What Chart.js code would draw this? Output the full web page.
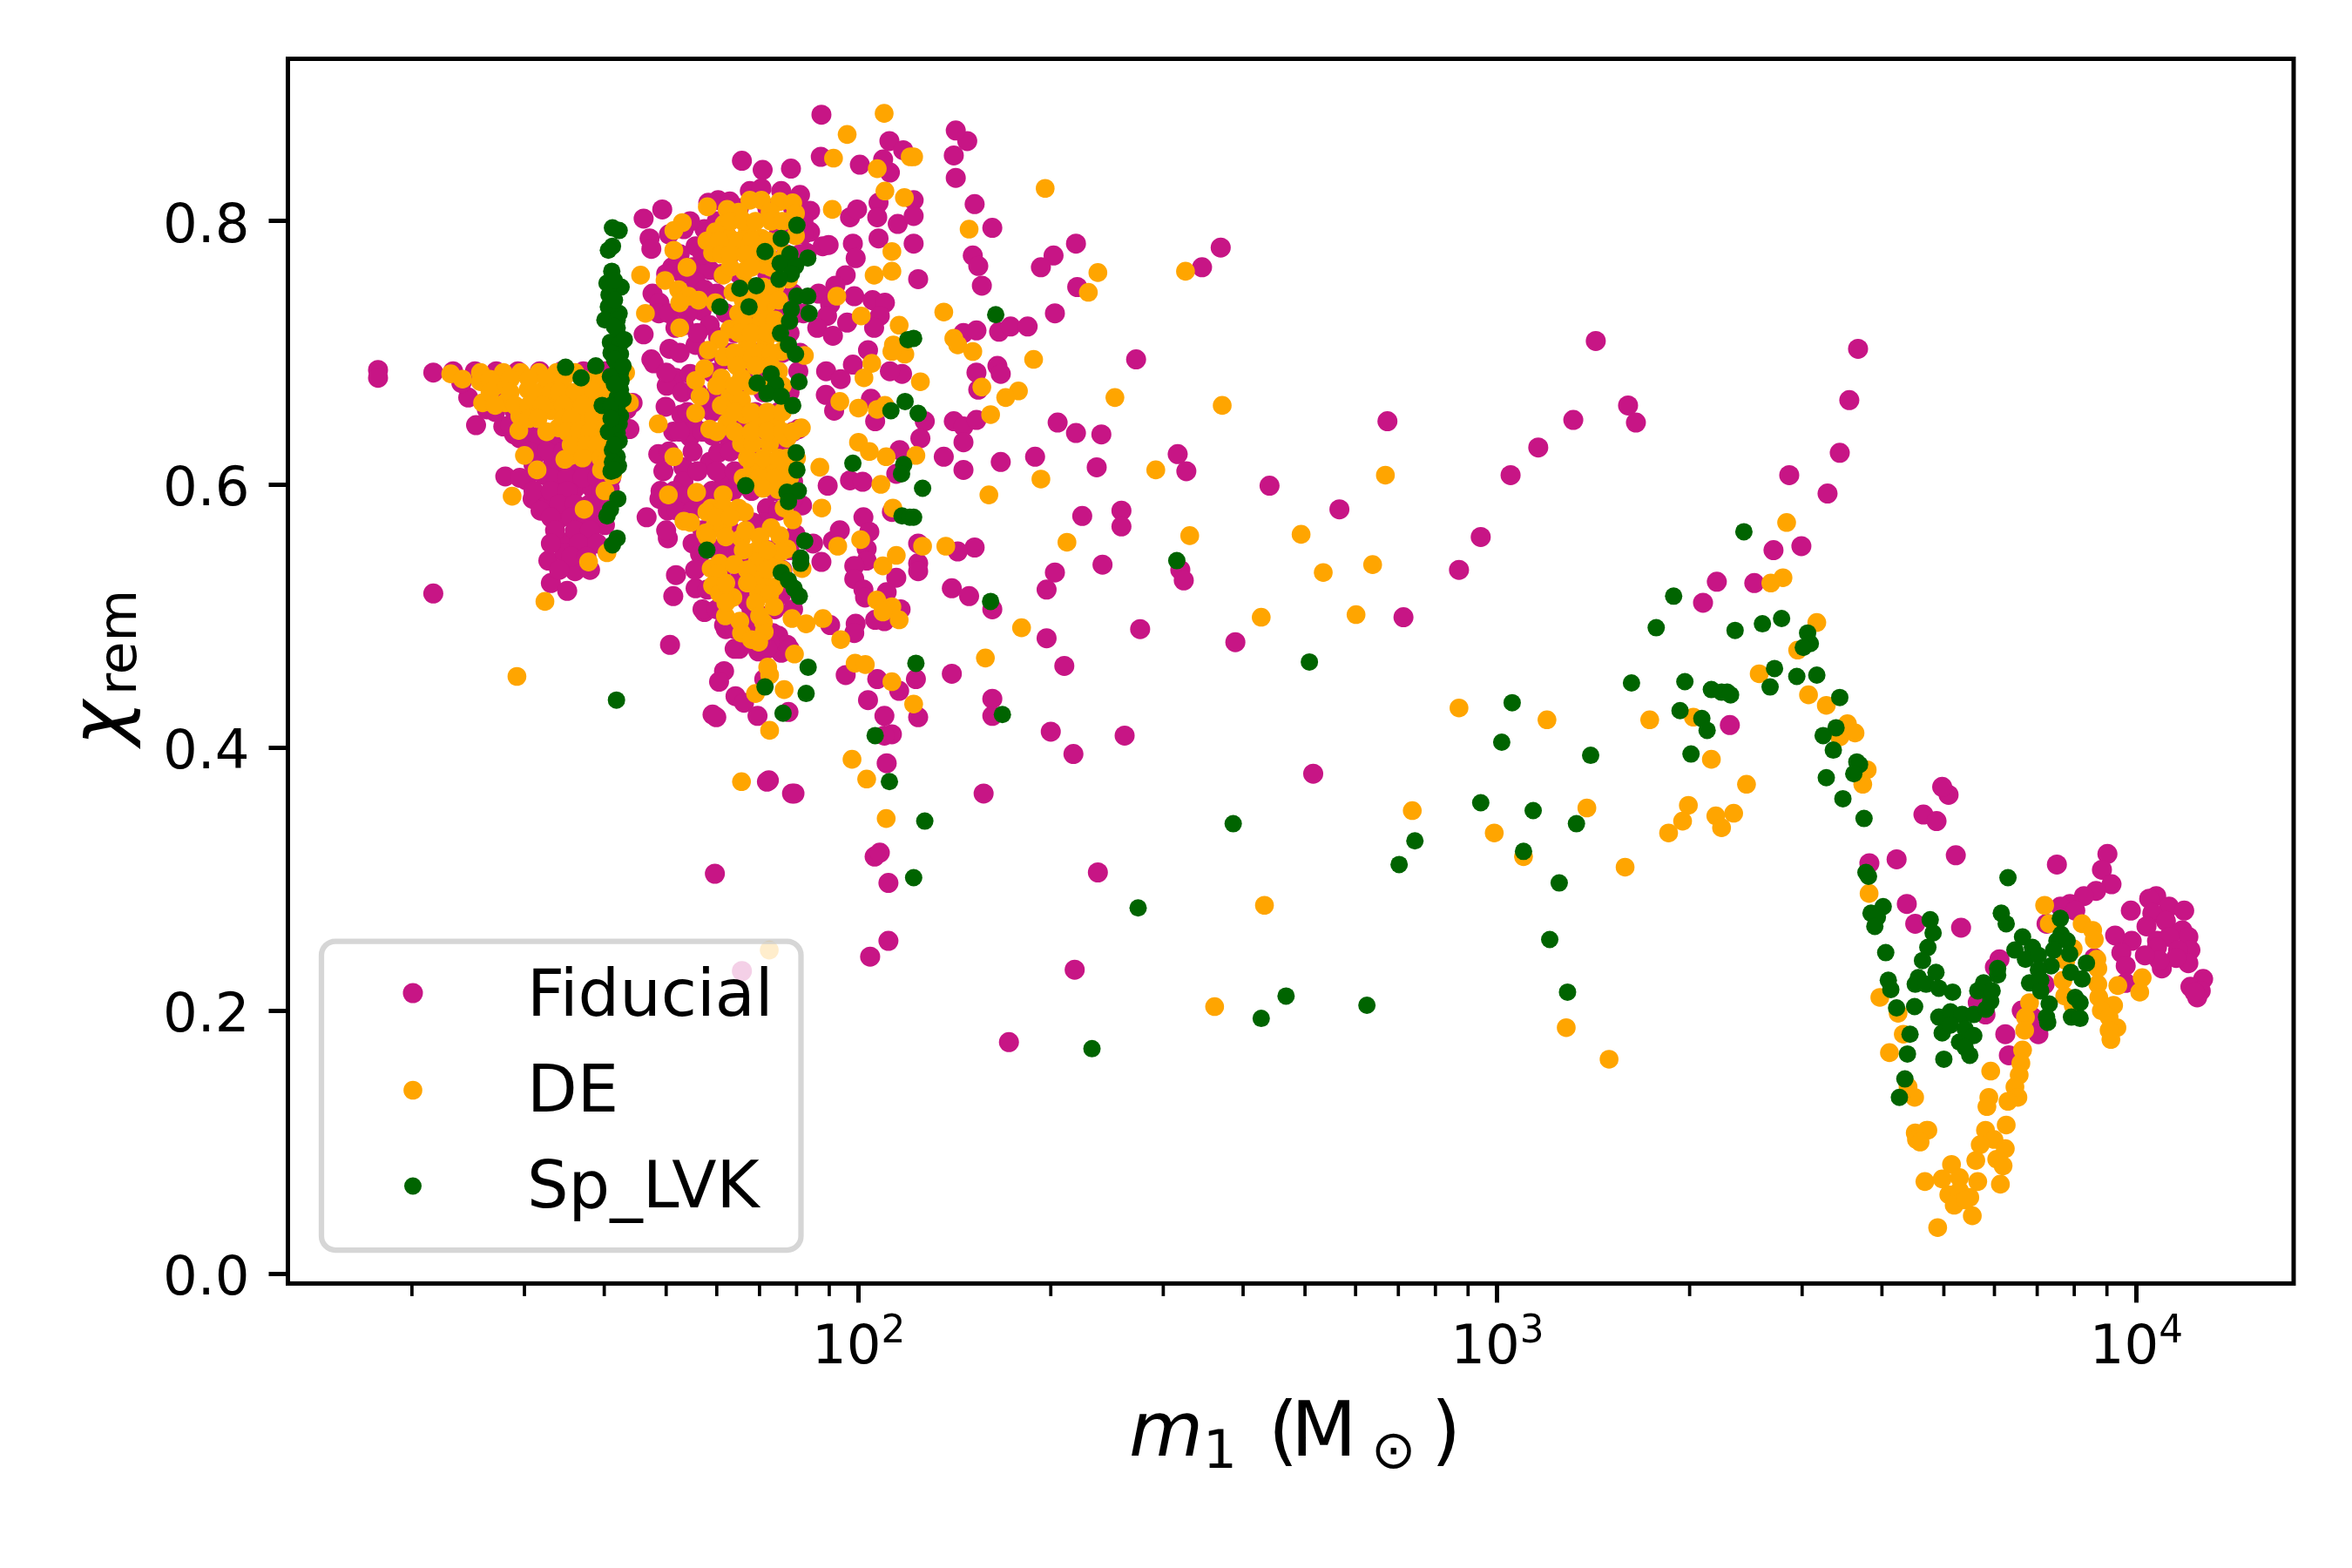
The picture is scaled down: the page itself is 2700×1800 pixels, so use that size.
<!DOCTYPE html>
<html>
<head>
<meta charset="utf-8">
<title>Remnant spin vs primary mass</title>
<script src="https://cdn.jsdelivr.net/npm/chart.js@4"></script>
<style>
    html, body { margin: 0; padding: 0; background: #fff; }
    canvas { display: block; }
</style>
</head>
<body>
<canvas id="myScatter" width="2700" height="1800"></canvas>
<script>
"use strict";

// Values, each pair is [m1, chi_rem]
const fiducial = [
    // low mass triangle
    [17.7,.687],[17.7,.681],[21.6,.685],[23.2,.686],[25.1,.686],[27.1,.686],[29.3,.686],[31.7,.686],[34.3,.686],[37.1,.686],[40.1,.686],
    [24.5,.666],[23.9,.677],[25.2,.645],[26.2,.657],[27.8,.644],[28.9,.638],[30.3,.634],[31.4,.624],[33.3,.617],[33.8,.6],[32.2,.607],
    [30.2,.603],[28,.606],[30.9,.589],[32.8,.588],[31.8,.58],[34,.574],[36.5,.58],[35,.556],[37.9,.553],[32.7,.542],[34.7,.548],
    [36,.534],[33,.525],[35,.519],[40.1,.569],[39.6,.584],[36,.597],[38.3,.597],[34.9,.61],[37.1,.617],[39.6,.617],[40.8,.597],
    [36,.63],[38.3,.637],[33.8,.637],[31.7,.637],[29.8,.65],[31.7,.657],[40.8,.637],[43.4,.657],[27.8,.666],[44.3,.662],[43.8,.642],[21.6,.517],
    [27,.655],[29,.655],[28.5,.645],[30,.645],[29.5,.635],[31,.635],[33,.635],[30.5,.625],[32.5,.625],[34.5,.625],[31,.615],[35,.615],[36.5,.615],
    [38,.615],[40,.615],[29.5,.605],[33,.605],[35,.605],[37,.605],[39,.605],[41,.605],[31,.595],[33,.595],[35,.595],[39.5,.595],[34,.585],[36,.585],
    [38,.585],[33,.575],[35.5,.575],[37.5,.575],[39.5,.575],[33.5,.565],[36,.565],[38,.565],[33,.555],[36.5,.555],[39,.555],[35.5,.545],[37.5,.545],[34,.535],[38,.535],
    // top of the main cloud
    [87.5,.881],[65.7,.846],[70.8,.839],[78.4,.84],[87.3,.849],[100.5,.843],[111.8,.861],[117.5,.854],[112,.837],[109.3,.847],
    // main cloud, upper half
    [46.1,.802],[49.3,.809],[47.1,.787],[47.4,.779],[47.6,.745],[48.8,.738],[48.7,.73],[46.1,.714],[47.4,.695],[50.6,.703],[47.8,.692],
    [51.7,.681],[50.1,.675],[49.9,.659],[52.8,.653],[51.3,.64],[54.5,.636],[48.6,.623],[53.2,.613],[53.2,.602],[58.2,.814],[60.3,.816],
    [62.9,.815],[67.6,.823],[70.5,.825],[75.7,.823],[81,.82],[84,.808],[84,.792],[53.3,.794],[57.4,.794],[55.6,.781],[51.1,.765],[55,.765],
    [58.5,.763],[55.6,.754],[57.4,.748],[56.8,.732],[53.3,.721],[55.6,.706],[58.5,.721],[60.3,.712],[51.7,.719],[61.6,.695],[64.2,.692],
    [54.5,.684],[57.9,.659],[59.1,.637],[58.5,.617],[62.9,.633],[55,.646],[61.6,.604],[60.3,.624],[66.2,.648],[66.2,.626],[63.6,.595],
    [87.9,.781],[89.8,.782],[97,.803],[99.5,.809],[107.5,.814],[107,.803],[115.2,.798],[98,.783],[99,.772],[107.5,.787],[95.5,.759],
    [92,.751],[86.6,.745],[90.3,.737],[98.5,.743],[105.2,.74],[110,.738],[89.3,.728],[86.2,.719],[91.2,.713],[96,.723],[108,.728],
    [105.8,.719],[103.5,.702],[117,.684],[112,.686],[98,.691],[89,.686],[93.8,.68],[88.9,.668],[91.6,.656],[104.6,.665],[106.2,.648],
    [116,.626],[114.6,.608],[97,.603],[101.5,.602],[89.5,.599],[79.7,.73],[83,.776],[80.5,.686],[80.5,.642],[81.6,.584],[79,.602],
    [65,.81],[72,.81],[79,.81],[54.5,.8],[60,.8],[78,.8],[82,.8],[50.5,.79],[62,.79],[75,.79],[82,.79],[52.5,.775],[57,.775],[63,.775],[70,.775],[77,.775],
    [81,.775],[50,.76],[53,.76],[61,.76],[65,.76],[72,.76],[60,.745],[66,.745],[74,.745],[79,.745],[50.5,.73],[54,.73],[62,.73],[70,.73],[75,.73],[82,.73],
    [56,.715],[64,.715],[72,.715],[78,.715],[52.5,.7],[58,.7],[63,.7],[69,.7],[76,.7],[81,.7],[50,.685],[59,.685],[66,.685],[72,.685],[53,.67],[56,.67],
    [60,.67],[64,.67],[71,.67],[78,.67],[54,.655],[59,.655],[63,.655],[69,.655],[75,.655],[52.5,.64],[57,.64],[62,.64],[66,.64],[72,.64],[79,.64],[50.5,.625],
    [55,.625],[63,.625],[70,.625],[76,.625],[49.5,.61],[56,.61],[60,.61],[64,.61],[72,.61],[51.5,.595],[59,.595],[68,.595],[74,.595],
    // main cloud, lower half
    [46.6,.575],[50.3,.559],[51.8,.531],[51.3,.515],[55.6,.521],[57.4,.503],[61.6,.493],[65.1,.475],[50.7,.478],[69.7,.473],[75.7,.472],
    [61.6,.458],[60.5,.45],[64.2,.439],[66.2,.434],[69.5,.424],[59.1,.425],[59.9,.423],[77.7,.427],[71.2,.452],[71.9,.374],[78.7,.365],
    [95.5,.455],[107,.452],[103.5,.436],[115.8,.443],[109.8,.424],[112.8,.41],[109.8,.409],[110.7,.388],[114.6,.529],[110.7,.518],
    [116.4,.505],[109.8,.496],[106.2,.497],[99,.494],[98.5,.487],[90.3,.493],[87.5,.541],[84.9,.555],[91.2,.557],[93.5,.565],[101.8,.575],
    [104,.564],[103,.551],[103,.542],[98.5,.538],[98.5,.528],[101.8,.52],[102.4,.514],[112.8,.579],[79,.589],[71.9,.582],[71.2,.571],
    [75.7,.558],[66.2,.544],[64.9,.527],[67,.511],[70.5,.5],[73.4,.487],[79,.505],[75.7,.516],[58.5,.553],[55,.555],[56.5,.547],[49,.595],
    [48.8,.589],[53.3,.591],[50.3,.58],[57.4,.584],[64.9,.538],[72.6,.538],[74.9,.485],[77.3,.478],[72.6,.48],[67,.491],[68.3,.571],
    [63.6,.549],[61.6,.516],[79.7,.562],[106,.317],[108,.32],[111.4,.297],[59.6,.304],[72.4,.375],[79.4,.365],[65.7,.23],[104.3,.241],[111.4,.253],
    [52,.58],[55,.58],[61,.58],[65,.58],[75,.58],[50,.565],[57,.565],[63,.565],[69,.565],[60,.55],[65,.55],[72,.55],[78,.55],[55.5,.535],[61,.535],[68,.535],
    [76,.535],[58,.52],[65,.52],[72,.52],[57,.505],[60,.505],[68,.505],[74,.505],[62,.49],[64,.49],[70,.49],[64,.475],[72,.475],[78,.475],
    // right of the main cloud
    [148,.861],[142,.869],[141,.85],[142,.833],[152,.813],[122,.816],[162,.795],[122,.804],[219,.783],[202,.774],[193,.765],[369,.78],
    [345,.765],[151,.774],[154,.766],[156,.751],[124,.756],[122,.783],[220,.75],[203,.73],[146,.715],[153,.717],[166,.716],[173,.72],
    [184,.72],[272,.695],[165,.69],[167,.684],[153,.685],[154,.672],[673,.648],[127,.648],[141,.648],[146,.644],[153,.649],[125,.635],
    [146,.632],[205,.647],[219,.639],[240,.638],[136,.621],[146,.611],[167,.617],[189,.621],[236,.613],[316,.623],[326,.61],[440,.599],
    [566,.581],[224,.576],[258,.58],[258,.568],[152,.552],[143,.549],[124,.555],[124,.54],[124,.534],[871,.535],[241,.539],[203,.533],
    [197,.52],[319,.535],[323,.527],[140,.521],[149,.515],[162,.505],[713,.499],[389,.48],[276,.49],[197,.483],[210,.462],[140,.456],
    [123,.452],[162,.437],[162,.424],[124,.423],[200,.412],[261,.409],[217,.395],[515,.38],[157,.365],[237,.305],[218,.231],[172,.176],
    // arc up to 3700 Msun
    [1426,.709],[3670,.703],[3556,.664],[3436,.624],[3288,.593],[2864,.607],[1602,.66],[1648,.647],[1315,.649],[1159,.628],[1049,.607],
    [942,.56],[2706,.55],[2992,.553],[2206,.526],[2099,.51],[2525,.525],[2312,.417],
    // high mass end
    [3823,.312],[4217,.315],[4645,.349],[4375,.281],[4510,.266],[5086,.364],[4970,.37],[4870,.344],[5220,.318],[5320,.263],[6110,.239],
    [6010,.233],[5650,.206],[5810,.197],[6240,.182],[6320,.166],[6620,.2],[7030,.182],[6880,.195],[7240,.266],[7190,.22],[8600,.24],
    [9016,.319],[8840,.307],[9150,.296],[8655,.291],[8285,.287],[7877,.281],[7610,.279],[8030,.276],[7515,.311],[9810,.276],[10750,.287],
    [10480,.285],[11260,.279],[11890,.276],[10600,.274],[10380,.264],[11130,.268],[11810,.261],[12070,.256],[10780,.253],[11260,.256],
    [12160,.246],[11630,.246],[10780,.248],[12070,.236],[11550,.24],[10970,.232],[10870,.238],[10320,.242],[9840,.253],[9270,.257],
    [9480,.244],[9630,.234],[9630,.221],[12730,.224],[12160,.218],[12620,.215],[12460,.21],[12340,.214]
];

const de = [
    // low mass triangle
    [23,.684],[25.6,.685],[25.6,.678],[25.8,.662],[28,.662],[27.8,.685],[29.6,.685],[31.6,.685],[33.7,.685],[36,.685],[27.1,.675],[30.4,.672],
    [32.5,.675],[35,.67],[37.3,.672],[39.3,.67],[31.8,.664],[33.5,.662],[35.7,.662],[38.1,.662],[29.5,.652],[29.4,.641],[33,.656],[33.9,.643],
    [37.3,.652],[37.1,.646],[38.3,.637],[39.9,.646],[38.3,.626],[30,.622],[31.4,.611],[34.7,.619],[35.5,.622],[39.6,.611],[41.2,.607],[40.1,.595],
    [28.7,.591],[37.2,.581],[40.4,.548],[37.8,.541],[32.3,.511],[29.2,.454],[43.8,.662],[43.2,.685],
    [24,.68],[26.5,.68],[28.5,.68],[30.5,.68],[32.5,.68],[34.5,.68],[37,.68],[39,.68],[26.5,.67],[28.5,.67],[31,.67],[33,.67],[34,.67],[36,.67],[38.5,.67],
    [40.5,.67],[27,.66],[29,.66],[30.5,.66],[32,.66],[34.5,.66],[37,.66],[39.5,.66],[41,.66],[30.5,.65],[31.5,.65],[34.5,.65],[35.5,.65],[38.5,.65],[40.5,.65],
    [32.5,.64],[35,.64],[36.5,.64],[38,.64],[40,.64],[35.5,.63],[37.5,.63],[39,.63],[41,.63],[37,.62],[39.5,.62],[40.5,.62],
    // top of the main cloud
    [109.7,.882],[96,.866],[91.4,.848],[107,.84],[120.5,.849],
    // main cloud, upper half
    [58,.811],[62.3,.809],[53,.799],[51.4,.793],[51.4,.778],[53.9,.765],[45.6,.759],[49.8,.755],[52.3,.748],[54.2,.743],[56.2,.74],[52.5,.738],
    [59.7,.738],[46.4,.73],[52.5,.719],[67.6,.816],[70.5,.816],[75.3,.815],[78.9,.814],[79.7,.806],[72.7,.807],[64.9,.807],[61.6,.798],[59.7,.792],
    [57.9,.785],[59.1,.776],[62.9,.787],[67,.792],[64.9,.778],[69,.778],[70.5,.787],[79.7,.789],[71.2,.767],[66.3,.762],[61.4,.759],[75.7,.77],
    [77.7,.756],[63.6,.746],[73.8,.743],[71.9,.737],[64.9,.73],[69.8,.732],[69.8,.721],[62.9,.718],[60.6,.71],[58.2,.702],[61.6,.697],[67,.706],
    [71.5,.71],[75.7,.701],[67,.695],[71.2,.692],[82.3,.698],[57.4,.688],[55.6,.679],[61,.681],[65.6,.681],[75,.686],[56.5,.667],[62.9,.666],
    [61,.66],[65.6,.664],[55.6,.654],[62.3,.647],[58.5,.642],[66.3,.653],[69.8,.648],[74.2,.648],[81.4,.643],[48.6,.646],[51.4,.621],[65.6,.631],
    [68.3,.631],[72.6,.631],[77.3,.635],[68.3,.613],[72.6,.611],[77.3,.62],[69.8,.617],[75.7,.613],[87,.613],[91,.809],[110,.823],[118,.818],
    [112.8,.777],[112.8,.762],[105.8,.759],[92.5,.743],[101,.728],[115.8,.721],[113.4,.706],[118.2,.699],[112.8,.701],[104.9,.692],[102,.681],
    [93.5,.663],[100,.658],[107,.657],[110,.66],[100,.632],[104,.625],[110.5,.621],[108.4,.6],
    [63,.8],[66,.8],[69,.8],[73,.8],[76,.8],[79,.8],[60.5,.785],[65,.785],[68,.785],[72,.785],[75,.785],[61,.775],[63,.775],[66.5,.775],[72,.775],[77,.775],
    [63,.765],[68,.765],[73,.765],[68,.75],[71,.75],[74,.75],[66,.74],[70,.74],[75,.74],[66,.725],[72,.725],[74,.725],[65,.715],[68,.715],[72,.715],[75,.715],
    [64,.7],[70,.7],[73,.7],[64.5,.69],[69,.69],[73,.69],[60,.675],[64,.675],[68,.675],[72,.675],[76,.675],[64,.655],[68,.655],[72,.655],[76,.655],[60,.64],
    [64,.64],[68,.64],[72,.64],[76,.64],[79,.64],[67,.62],[71,.62],[75,.62],[80,.62],[66,.605],[70,.605],[74,.605],[78,.605],
    // main cloud, lower half
    [50.4,.592],[55.8,.594],[61.4,.592],[58.8,.582],[61.6,.582],[57.9,.579],[64.9,.582],[66.3,.579],[70.9,.597],[74.9,.596],[76.5,.582],[78.9,.573],
    [53.3,.572],[54.6,.571],[57.6,.563],[59.4,.567],[61.3,.567],[65.6,.559],[66.6,.565],[73,.567],[70.1,.56],[75.3,.561],[69,.549],[77.3,.551],
    [69.4,.541],[73.4,.542],[75.7,.549],[58.8,.536],[60.6,.54],[63.9,.539],[60.3,.532],[59.1,.523],[60.6,.517],[63.6,.514],[70.5,.528],[73.8,.522],
    [69.8,.517],[72.6,.516],[73.8,.507],[61.9,.5],[65.2,.496],[71,.495],[65.6,.487],[71.2,.488],[68,.482],[69.8,.48],[78.7,.498],[82.8,.494],
    [88,.498],[93.8,.482],[79.4,.471],[72.1,.461],[72.6,.455],[69,.441],[76.5,.444],[72.6,.413],[87.6,.582],[92.8,.553],[100.8,.558],[109.2,.538],
    [114.6,.546],[106.8,.512],[109.7,.506],[112.8,.507],[109.2,.503],[115.8,.497],[98.8,.464],[102.5,.463],[112.8,.45],[97.7,.391],[103,.376],
    [65.6,.374],[110.5,.346],[81.6,.536],[113.2,.582],[72.5,.246],
    [60,.575],[63,.575],[58,.56],[62,.56],[66,.55],[72,.55],[67,.535],[72,.535],[76,.535],[62,.525],[67,.525],[62,.51],[69,.51],[70,.5],
    // right of the main cloud
    [196,.825],[122,.849],[149,.794],[237,.761],[229,.746],[325,.762],[136,.731],[141,.711],[143,.706],[151,.701],[188,.695],[252,.666],[371,.66],
    [156,.674],[125,.678],[178,.671],[170,.666],[161,.653],[123,.622],[292,.611],[193,.604],[668,.607],[160,.592],[330,.561],[493,.562],[212,.556],
    [137,.553],[126,.553],[534,.533],[638,.539],[601,.501],[427,.499],[180,.491],[158,.468],[122,.433],[871,.43],[736,.352],[432,.28],[361,.203],
    // arc and drop
    [2837,.571],[2800,.529],[2680,.525],[3163,.495],[2952,.474],[2570,.456],[3070,.44],[3273,.432],[2027,.423],[1732,.421],[1196,.421],[3532,.418],
    [3630,.411],[3436,.408],[2163,.391],[2455,.372],[1991,.356],[1950,.344],[1854,.335],[2198,.348],[2344,.35],[2244,.339],[1381,.354],[989,.335],
    [1099,.317],[1585,.309],[1282,.187],[1496,.163],[3793,.383],[3733,.372],[3819,.289],[3970,.21],[4240,.198],[4320,.182],[4110,.168],[4395,.142],
    [4500,.134],[4720,.109],[4510,.107],
    // high mass end
    [7190,.28],[8230,.266],[8550,.261],[8600,.254],[7310,.266],[7970,.247],[8680,.239],[8710,.232],[7760,.238],[7680,.223],[7730,.211],[7970,.204],
    [8710,.22],[9360,.219],[10220,.225],[10130,.214],[8740,.21],[9220,.204],[8820,.2],[9070,.195],[9330,.187],[9070,.185],[9130,.178],[6810,.206],
    [6710,.195],[6690,.185],[6640,.17],[6600,.16],[6560,.151],[6460,.142],[6530,.134],[6300,.131],[5920,.154],[5880,.134],[5840,.127],[6260,.113],
    [5810,.109],[5990,.102],[6240,.095],[5700,.098],[5610,.086],[6050,.087],[6190,.082],[6130,.068],[5140,.083],[4700,.109],[4530,.102],[4590,.1],
    [4670,.07],[4970,.072],[5290,.073],[5650,.07],[5090,.06],[5290,.063],[5490,.058],[5190,.052],[5400,.056],[5540,.044],[4890,.035]
];

const spLvk = [
    // vertical strip near 42 Msun
    [41.2,.795],[42.2,.793],[41.2,.781],[40.6,.778],[41.1,.762],[40.4,.753],[42.5,.75],[40.7,.744],[40.6,.735],[42.2,.73],[40.1,.725],[41.9,.725],
    [41.9,.719],[42.2,.712],[40.9,.708],[42.4,.707],[42.4,.699],[41.9,.692],[42.4,.685],[38.8,.69],[34.8,.689],[36.8,.681],[42.5,.679],[40.9,.682],
    [42.4,.672],[41.9,.666],[39.7,.66],[41.9,.659],[42.4,.652],[42.2,.646],[40.6,.64],[41.9,.639],[42.2,.633],[41.2,.626],[41.9,.621],[41.2,.617],
    [42.1,.614],[42,.589],[40.9,.581],[40.4,.576],[41.9,.559],[41.2,.554],[41.8,.436],
    [41.5,.755],[41.5,.74],[41.5,.72],[41,.7],[41.5,.695],[41.5,.676],[41,.66],[41,.65],[41.5,.63],[41,.61],[41.5,.611],[43,.71],[42.8,.69],[42.8,.665],
    // main cloud
    [80.1,.797],[75.7,.787],[71.4,.777],[78.1,.775],[83.3,.772],[75.4,.768],[79.7,.766],[78.5,.76],[75.1,.756],[65.2,.749],[69.2,.751],[60.7,.735],
    [67.4,.735],[80.1,.743],[83.3,.743],[78.5,.733],[83.7,.73],[78,.724],[75.5,.715],[77.7,.706],[79.7,.699],[73,.684],[69.4,.677],[74.2,.676],
    [71.9,.669],[75.7,.667],[80.7,.678],[78.9,.66],[112.4,.656],[118.3,.663],[119.5,.71],[98,.616],[79.9,.624],[80.1,.611],[117.7,.615],[116.8,.608],
    [66.6,.599],[77.3,.594],[80.5,.595],[77.7,.587],[82.4,.557],[57.9,.55],[81.2,.544],[81.2,.54],[75.7,.533],[77.7,.527],[79.3,.521],[80.8,.515],
    [83.4,.461],[71.4,.446],[82.8,.441],[76.2,.426],[106.2,.409],[111.8,.374],[117,.576],[120.3,.575],
    // right of the main cloud
    [164,.729],[122,.711],[124,.654],[126,.597],[122,.575],[315,.542],[161,.511],[508,.465],[123,.464],[168,.425],[127,.344],[386,.342],[743,.329],
    [702,.311],[274,.278],[122,.301],[467,.211],[427,.194],[625,.204],[232,.171],
    // arc and drop
    [2432,.564],[1888,.515],[1773,.491],[2356,.489],[2600,.494],[2786,.498],[3060,.487],[3090,.479],[3013,.476],[2716,.46],[2943,.454],[3163,.455],
    [2673,.446],[1622,.449],[1966,.45],[2163,.444],[2244,.442],[2290,.442],[2318,.44],[1055,.434],[3436,.438],[1932,.428],[2090,.422],[2130,.413],
    [3390,.415],[3236,.409],[1016,.404],[1400,.394],[2010,.395],[3357,.398],[3654,.389],[3690,.387],[3614,.38],[3273,.377],[3475,.361],[3750,.346],
    [1138,.352],[942,.358],[1330,.342],[1099,.321],[1250,.297],[1208,.254],[1288,.214],
    // high mass end
    [3776,.305],[3811,.302],[4018,.279],[3846,.274],[3935,.271],[3899,.264],[4055,.244],[4093,.223],[4130,.216],[4217,.202],[4500,.203],[4426,.182],
    [4385,.167],[4345,.148],[4260,.134],[6300,.301],[7610,.27],[6150,.274],[6260,.266],[4760,.269],[4810,.259],[4720,.248],[4630,.238],[4860,.229],
    [4560,.225],[4510,.22],[4690,.22],[4910,.217],[5160,.214],[4910,.195],[5120,.199],[5340,.197],[4970,.183],[5120,.189],[5290,.176],[5400,.186],
    [5570,.181],[5490,.166],[5400,.172],[5000,.163],[5570,.197],[5820,.201],[5920,.207],[5820,.215],[5650,.215],[5770,.221],[5950,.215],[6070,.227],
    [6070,.232],[6640,.256],[6460,.246],[6880,.248],[6710,.239],[7030,.242],[7630,.258],[7800,.253],[7515,.253],[7430,.246],[7870,.243],[7360,.234],
    [7030,.231],[6810,.221],[7090,.223],[7090,.215],[7310,.205],[7240,.195],[7270,.191],[8360,.236],[7900,.229],[8230,.224],[8030,.21],[8170,.206],
    [7920,.195],[8170,.194]
];

const seriesNames = ["Fiducial", "DE", "Sp_LVK"];
const seriesColors = ["#C71585", "#FFA500", "#006400"];
const seriesRadius = [11.5, 10.8, 10];

const yTicks = [0, 0.2, 0.4, 0.6, 0.8];
const xMajorTicks = [100, 1000, 10000];
const xMajorExponents = ["2", "3", "4"];
const xMinorTicks = [20, 30, 40, 50, 60, 70, 80, 90, 200, 300, 400, 500, 600, 700, 800, 900, 2000, 3000, 4000, 5000, 6000, 7000, 8000, 9000];

const FONT = "'DejaVu Sans'";

function toPoints(pairs) {
    return pairs.map(function (p) {
        return { x: p[0], y: p[1] };
    });
}

// Frame, minor ticks, tick labels and the two axis titles
const axisDecorations = {
    id: "axisDecorations",
    afterDraw(chart) {
        const ctx = chart.ctx;
        const area = chart.chartArea;
        const xScale = chart.scales.x;
        const yScale = chart.scales.y;

        ctx.save();
        ctx.strokeStyle = "#000";
        ctx.lineWidth = 5;
        ctx.strokeRect(area.left, area.top, area.right - area.left, area.bottom - area.top);

        ctx.lineWidth = 3.75;
        xMinorTicks.forEach(function (v) {
            const px = xScale.getPixelForValue(v);
            ctx.beginPath();
            ctx.moveTo(px, area.bottom);
            ctx.lineTo(px, area.bottom + 14.5);
            ctx.stroke();
        });

        ctx.fillStyle = "#000";
        ctx.textBaseline = "alphabetic";

        ctx.textAlign = "right";
        ctx.font = "62.5px " + FONT;
        yTicks.forEach(function (v) {
            ctx.fillText(v.toFixed(1), 286.5, yScale.getPixelForValue(v) + 24);
        });

        ctx.textAlign = "left";
        xMajorTicks.forEach(function (v, i) {
            const px = xScale.getPixelForValue(v);
            ctx.font = "62.5px " + FONT;
            ctx.fillText("10", px - 53.6, 1565);
            ctx.font = "43.75px " + FONT;
            ctx.fillText(xMajorExponents[i], px + 26, 1541);
        });

        // x title
        ctx.font = "italic 87.5px " + FONT;
        ctx.fillText("m", 1296, 1671);
        ctx.font = "61.25px " + FONT;
        ctx.fillText("1", 1381, 1685);
        ctx.font = "87.5px " + FONT;
        ctx.fillText("(", 1456, 1671);
        ctx.fillText("M", 1482, 1671);
        ctx.fillText(")", 1643, 1671);
        ctx.font = "61.25px " + FONT;
        ctx.fillText("\u2299", 1574, 1685);

        // y title
        ctx.translate(143, 856);
        ctx.rotate(-Math.PI / 2);
        ctx.font = "italic 87.5px " + FONT;
        ctx.fillText("\u03C7", 0, 0);
        ctx.font = "61.25px " + FONT;
        ctx.fillText("rem", 58, 13);
        ctx.restore();
    }
};

// Legend box in the lower left corner, half see-through like the points under it
const cornerLegend = {
    id: "cornerLegend",
    afterDraw(chart) {
        const ctx = chart.ctx;
        const rowY = [1140, 1251.5, 1361.5];
        const baseY = [1166, 1276, 1386];

        ctx.save();
        ctx.beginPath();
        ctx.roundRect(369, 1080.5, 550.5, 354.5, 16);
        ctx.fillStyle = "rgba(255,255,255,0.8)";
        ctx.fill();
        ctx.lineWidth = 6.25;
        ctx.strokeStyle = "rgba(204,204,204,0.8)";
        ctx.stroke();

        seriesNames.forEach(function (name, i) {
            ctx.beginPath();
            ctx.arc(474, rowY[i], seriesRadius[i], 0, Math.PI * 2);
            ctx.fillStyle = seriesColors[i];
            ctx.fill();
            ctx.fillStyle = "#000";
            ctx.font = "75px " + FONT;
            ctx.textAlign = "left";
            ctx.textBaseline = "alphabetic";
            ctx.fillText(name, 605, baseY[i]);
        });
        ctx.restore();
    }
};

const seriesData = [fiducial, de, spLvk];

new Chart(document.getElementById("myScatter"), {
    type: "scatter",
    data: {
        datasets: seriesNames.map(function (name, i) {
            return {
                label: name,
                data: toPoints(seriesData[i]),
                backgroundColor: seriesColors[i],
                pointRadius: seriesRadius[i],
                pointBorderWidth: 0,
                order: 3 - i
            };
        })
    },
    options: {
        responsive: false,
        animation: false,
        devicePixelRatio: 1,
        layout: { padding: { top: 67.5, right: 67, left: 0, bottom: 0 } },
        plugins: {
            legend: { display: false },
            tooltip: { enabled: false }
        },
        scales: {
            x: {
                type: "logarithmic",
                min: 12.79,
                max: 17640,
                border: { display: false },
                grid: { drawOnChartArea: false, tickLength: 22, tickWidth: 5, tickColor: "#000" },
                ticks: { callback: function () { return ""; }, autoSkip: false, maxRotation: 0 },
                afterBuildTicks: function (scale) {
                    scale.ticks = xMajorTicks.map(function (v) { return { value: v }; });
                },
                afterFit: function (scale) { scale.height = 326.6; }
            },
            y: {
                min: -0.0075,
                max: 0.9235,
                border: { display: false },
                grid: { drawOnChartArea: false, tickLength: 22, tickWidth: 5, tickColor: "#000" },
                ticks: { callback: function () { return ""; } },
                afterBuildTicks: function (scale) {
                    scale.ticks = yTicks.map(function (v) { return { value: v }; });
                },
                afterFit: function (scale) { scale.width = 330.5; }
            }
        }
    },
    plugins: [axisDecorations, cornerLegend]
});
</script>
</body>
</html>
